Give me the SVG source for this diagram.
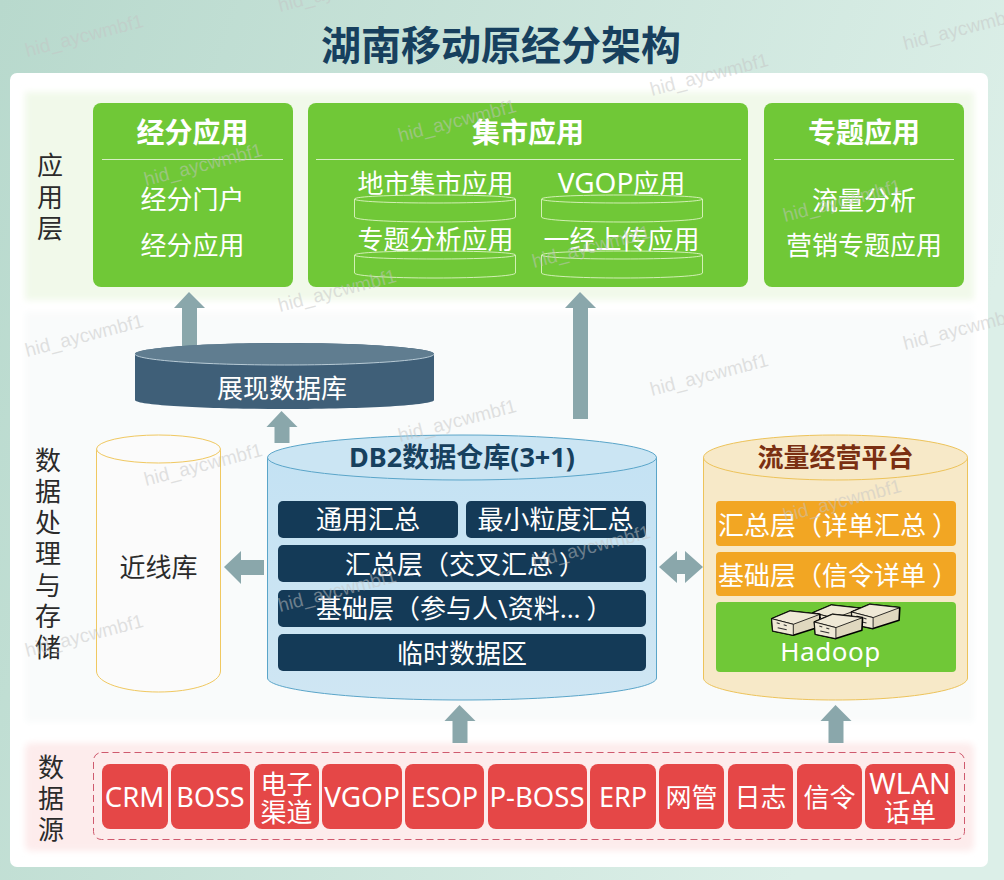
<svg xmlns="http://www.w3.org/2000/svg" width="1004" height="880" viewBox="0 0 1004 880">
<defs>
<linearGradient id="bg" x1="0" y1="0" x2="1" y2="0.3"><stop offset="0" stop-color="#b8d9cd"/><stop offset="1" stop-color="#dcefe8"/></linearGradient>
<linearGradient id="db2" x1="0" y1="0" x2="0" y2="1"><stop offset="0" stop-color="#c4e2f3"/><stop offset="1" stop-color="#cfe6f3"/></linearGradient>
<filter id="soft" x="-5%" y="-5%" width="110%" height="110%"><feGaussianBlur stdDeviation="3"/></filter>
<style>
text{font-family:"Noto Sans","Noto Sans CJK SC",sans-serif;text-anchor:middle;font-size:26px}
.w{fill:#fff}
.s{text-anchor:start}
.k{fill:#2b2b2b}
.h{font-size:28px;font-weight:700;fill:#fff}
.grn{fill:#70c837}
.rule{stroke:#d6efc4;stroke-width:1}
.cyl{fill:none;stroke:#d2f0b4;stroke-width:1}
.dark{fill:#143a57}
.org{fill:#f2a623}
.red{fill:#e54747}
.arrow{fill:#8aa7ab}
.wm{font-family:"Liberation Sans",sans-serif;font-size:19px;fill:#c4c4c4;fill-opacity:.5;text-anchor:start}
.srv{fill:#e0d8bf;stroke:#000;stroke-width:1.600px;stroke-linejoin:round}
.srt{fill:#efe9d6;stroke:#000;stroke-width:.8px;stroke-linejoin:round}
.srm{fill:none;stroke:#333;stroke-width:1.100px}
</style>
<g id="server">
<path class="srv" d="M0 0L18.300-7.700 48.300-4.400 47.600 8.300 21.600 16.600 1 12.300z"/>
<path class="srt" d="M0 0L18.300-7.700 48.300-4.400 21.600 5.600z"/>
<path class="srt" d="M0 0L21.600 5.600V16.600L1 12.300z"/>
<path class="srm" d="M5 4l3 1M12 6l3 1M6 9l9 2"/>
</g>
</defs>
<rect width="1004" height="880" fill="url(#bg)"/>
<rect x="10" y="73" width="978" height="794" rx="7" fill="#fff"/>
<rect x="25" y="92" width="949" height="208" fill="#f1f9ea" filter="url(#soft)"/>
<rect x="25" y="312" width="949" height="410" fill="#f9fbfb" filter="url(#soft)"/>
<rect x="25" y="743" width="949" height="108" rx="6" fill="#fdecec" filter="url(#soft)"/>
<text x="501" y="60" style="font-size:40px;font-weight:700;fill:#17405e">湖南移动原经分架构</text>

<g id="layer-labels">
<text class="k" x="50" y="175">应</text><text class="k" x="50" y="207">用</text><text class="k" x="50" y="238">层</text>
<text class="k" x="48" y="470">数</text><text class="k" x="48" y="501">据</text><text class="k" x="48" y="532">处</text><text class="k" x="48" y="563">理</text><text class="k" x="48" y="595">与</text><text class="k" x="48" y="626">存</text><text class="k" x="48" y="657">储</text>
<text class="k" x="51" y="777">数</text><text class="k" x="51" y="808">据</text><text class="k" x="51" y="839">源</text>
</g>

<g id="app-jingfen">
<rect class="grn" x="93" y="103" width="200" height="184" rx="8"/>
<text class="h" x="192.500" y="143">经分应用</text>
<line class="rule" x1="102" y1="159.500" x2="283" y2="159.500"/>
<text class="w" x="192.500" y="209">经分门户</text>
<text class="w" x="192.500" y="255">经分应用</text>
</g>
<g id="app-jishi">
<rect class="grn" x="308" y="103" width="440" height="184" rx="8"/>
<text class="h" x="528" y="143">集市应用</text>
<line class="rule" x1="316" y1="159.500" x2="741" y2="159.500"/>
<path class="cyl" d="M354.500 199c0-2.500 36-4 80.500-4s80.500 1.500 80.500 4v18c0 3-36 5-80.500 5s-80.500-2-80.500-5zM354.500 199c0 2.500 36 4 80.500 4s80.500-1.500 80.500-4"/>
<path class="cyl" d="M541.500 199c0-2.500 36-4 80.500-4s80.500 1.500 80.500 4v18c0 3-36 5-80.500 5s-80.500-2-80.500-5zM541.500 199c0 2.500 36 4 80.500 4s80.500-1.500 80.500-4"/>
<path class="cyl" d="M354.500 255c0-2.500 36-4 80.500-4s80.500 1.500 80.500 4v18c0 3-36 5-80.500 5s-80.500-2-80.500-5zM354.500 255c0 2.500 36 4 80.500 4s80.500-1.500 80.500-4"/>
<path class="cyl" d="M541.500 255c0-2.500 36-4 80.500-4s80.500 1.500 80.500 4v18c0 3-36 5-80.500 5s-80.500-2-80.500-5zM541.500 255c0 2.500 36 4 80.500 4s80.500-1.500 80.500-4"/>
<text class="w" x="435.500" y="193">地市集市应用</text>
<text class="w" x="621.500" y="193"><tspan style="font-size:28px">VGOP</tspan>应用</text>
<text class="w" x="435.500" y="249">专题分析应用</text>
<text class="w" x="621.500" y="249">一经上传应用</text>
</g>
<g id="app-zhuanti">
<rect class="grn" x="764" y="103" width="200" height="184" rx="8"/>
<text class="h" x="864" y="143">专题应用</text>
<line class="rule" x1="774" y1="159.500" x2="954" y2="159.500"/>
<text class="w" x="864" y="210">流量分析</text>
<text class="w" x="864" y="255">营销专题应用</text>
</g>

<g id="connectors">
<path class="arrow" d="M189 292l16 16h-8v38h-15v-38h-8z"/>
<path class="arrow" d="M281.500 411l16 16h-8v16h-15v-16h-8z"/>
<path class="arrow" d="M580 292l16 16h-8v111h-15V308h-8z"/>
<path class="arrow" d="M224 567l17-16v9h23v15h-23v9z"/>
<path class="arrow" d="M659 567l18-16v9h8v-9l18 16-18 16v-9h-8v9z"/>
<path class="arrow" d="M459.500 705l16 16h-8v22h-15v-22h-8z"/>
<path class="arrow" d="M835.500 705l16 16h-8v22h-15v-22h-8z"/>
</g>

<g id="db-display">
<path d="M135 354c0-6 67-11 149.500-11s149.500 5 149.500 11v46c0 5-67 9-149.500 9S135 405 135 400z" fill="#3f5f78"/>
<ellipse cx="284.500" cy="354" rx="149.500" ry="11" fill="#607d90"/>
<path d="M135 354c0 6 67 11 149.500 11s149.500-5 149.500-11" fill="none" stroke="#b8cbd6" stroke-width="1"/>
<text class="w" x="282" y="398">展现数据库</text>
</g>

<g id="db-nearline">
<path d="M96.500 449v222c0 12 28 21 62 21s62-9 62-21V449" fill="#fbfbfb" stroke="#f0c860" stroke-width="1"/>
<ellipse cx="158.500" cy="449" rx="62" ry="14" fill="#fbfbfb" stroke="#f0c860" stroke-width="1"/>
<text class="k" x="158.500" y="577">近线库</text>
</g>

<g id="db-db2">
<path d="M267.500 457v221c0 12 87 22 194.500 22s194.500-10 194.500-22V457" fill="url(#db2)" stroke="#5aa5c9" stroke-width="1"/>
<ellipse cx="462" cy="457.500" rx="194.500" ry="22.500" fill="#cbe5f3" stroke="#5aa5c9" stroke-width="1"/>
<text x="462" y="467" style="font-size:27px;font-weight:700;fill:#17405e">DB2数据仓库(3+1)</text>
<rect class="dark" x="278" y="501" width="180" height="37" rx="5"/>
<rect class="dark" x="466" y="501" width="180" height="37" rx="5"/>
<rect class="dark" x="278" y="545" width="368" height="37" rx="5"/>
<rect class="dark" x="278" y="590" width="368" height="37" rx="5"/>
<rect class="dark" x="278" y="634" width="368" height="37" rx="5"/>
<text class="w" x="368" y="529">通用汇总</text>
<text class="w" x="555.500" y="529">最小粒度汇总</text>
<text class="w s" x="345" y="574">汇总层（交叉汇总<tspan dx="6">）</tspan></text>
<text class="w s" x="316" y="618">基础层（参与人\资料...<tspan dx="6">）</tspan></text>
<text class="w" x="462" y="663">临时数据区</text>
</g>

<g id="db-traffic">
<path d="M703.500 457v221c0 12 59 22 132 22s132-10 132-22V457" fill="#f7e9c8" stroke="#edc35a" stroke-width="1"/>
<ellipse cx="835.500" cy="457.500" rx="132" ry="22.500" fill="#f7e9c8" stroke="#edc35a" stroke-width="1"/>
<text x="835.500" y="467" style="font-weight:700;fill:#7a2f12">流量经营平台</text>
<rect class="org" x="716" y="501" width="240" height="45" rx="4"/>
<rect class="org" x="716" y="552" width="240" height="44" rx="4"/>
<rect class="grn" x="716" y="602" width="240" height="70" rx="4"/>
<text class="w s" x="718" y="535">汇总层（详单汇总<tspan dx="6">）</tspan></text>
<text class="w s" x="718" y="585">基础层（信令详单<tspan dx="6">）</tspan></text>
<text class="w" x="830.500" y="661" style="font-size:26px;letter-spacing:.5px">Hadoop</text>
<g id="servers">
<use href="#server" x="813" y="612.700"/>
<use href="#server" x="851.500" y="612"/>
<use href="#server" x="771.700" y="618.700"/>
<use href="#server" x="814.300" y="622"/>
</g>
</g>

<g id="source-frame">
<rect x="93.500" y="752.500" width="871" height="87" rx="8" fill="none" stroke="#cf5a6e" stroke-width="1" stroke-dasharray="7 4"/>
</g>
<g id="src-crm"><rect class="red" x="102" y="764" width="66" height="65" rx="8"/><text class="w" x="134.500" y="807" style="font-size:27.500px">CRM</text></g>
<g id="src-boss"><rect class="red" x="171" y="764" width="79" height="65" rx="8"/><text class="w" x="210.500" y="807" style="font-size:27px">BOSS</text></g>
<g id="src-channel"><rect class="red" x="254" y="764" width="65" height="65" rx="8"/><text class="w" x="286.500" y="794">电子</text><text class="w" x="286.500" y="822">渠道</text></g>
<g id="src-vgop"><rect class="red" x="322" y="764" width="80" height="65" rx="8"/><text class="w" x="362" y="807" style="font-size:28px">VGOP</text></g>
<g id="src-esop"><rect class="red" x="405" y="764" width="79" height="65" rx="8"/><text class="w" x="444.500" y="807" style="font-size:27px">ESOP</text></g>
<g id="src-pboss"><rect class="red" x="488" y="764" width="99" height="65" rx="8"/><text class="w" x="537" y="807" style="font-size:27.500px">P-BOSS</text></g>
<g id="src-erp"><rect class="red" x="590" y="764" width="66" height="65" rx="8"/><text class="w" x="623" y="807" style="font-size:27px">ERP</text></g>
<g id="src-nms"><rect class="red" x="659" y="764" width="65" height="65" rx="8"/><text class="w" x="691.500" y="807">网管</text></g>
<g id="src-log"><rect class="red" x="728" y="764" width="65" height="65" rx="8"/><text class="w" x="760.500" y="807">日志</text></g>
<g id="src-signal"><rect class="red" x="797" y="764" width="65" height="65" rx="8"/><text class="w" x="829.500" y="807">信令</text></g>
<g id="src-wlan"><rect class="red" x="865" y="764" width="90" height="65" rx="8"/><text class="w" x="910" y="794" style="font-size:28.500px">WLAN</text><text class="w" x="910" y="822">话单</text></g>

<g id="watermarks">
<text class="wm" transform="translate(27 57) rotate(-14.500)">hid_aycwmbf1</text>
<text class="wm" transform="translate(280 12) rotate(-14.500)">hid_aycwmbf1</text>
<text class="wm" transform="translate(652 96) rotate(-14.500)">hid_aycwmbf1</text>
<text class="wm" transform="translate(905 50) rotate(-14.500)">hid_aycwmbf1</text>
<text class="wm" transform="translate(400 142) rotate(-14.500)">hid_aycwmbf1</text>
<text class="wm" transform="translate(146 186) rotate(-14.500)">hid_aycwmbf1</text>
<text class="wm" transform="translate(785 222) rotate(-14.500)">hid_aycwmbf1</text>
<text class="wm" transform="translate(534 268) rotate(-14.500)">hid_aycwmbf1</text>
<text class="wm" transform="translate(280 312) rotate(-14.500)">hid_aycwmbf1</text>
<text class="wm" transform="translate(27 357) rotate(-14.500)">hid_aycwmbf1</text>
<text class="wm" transform="translate(652 396) rotate(-14.500)">hid_aycwmbf1</text>
<text class="wm" transform="translate(905 350) rotate(-14.500)">hid_aycwmbf1</text>
<text class="wm" transform="translate(400 442) rotate(-14.500)">hid_aycwmbf1</text>
<text class="wm" transform="translate(146 486) rotate(-14.500)">hid_aycwmbf1</text>
<text class="wm" transform="translate(785 522) rotate(-14.500)">hid_aycwmbf1</text>
<text class="wm" transform="translate(534 568) rotate(-14.500)">hid_aycwmbf1</text>
<text class="wm" transform="translate(280 612) rotate(-14.500)">hid_aycwmbf1</text>
<text class="wm" transform="translate(27 657) rotate(-14.500)">hid_aycwmbf1</text>
</g>
</svg>
